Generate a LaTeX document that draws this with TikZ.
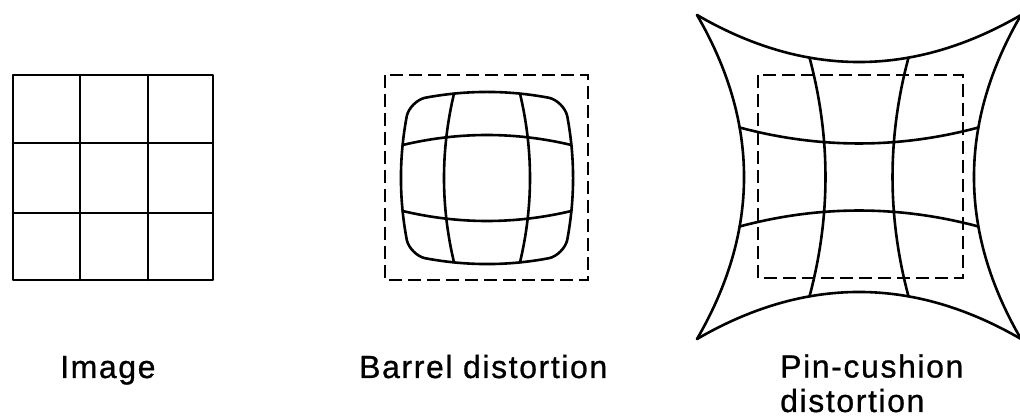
\documentclass[tikz,border=0pt]{standalone}
\usepackage{fontspec}
\setmainfont{Liberation Sans}[LetterSpace=5,FakeBold=0.8]
\begin{document}
\begin{tikzpicture}[x=1pt,y=-1pt,
  solidline/.style={line width=2.6pt,line join=round,line cap=round},
  dashline/.style={line width=2.3pt,dash pattern=on 13pt off 6pt},
  caption/.style={inner sep=0pt,anchor=base west,align=left,
    font=\fontsize{32}{34.5}\selectfont}]
\useasboundingbox (0,0) rectangle (1020,419);

% ---------- Image: regular grid ----------
\draw[solidline] (13,75) rectangle (213,280);
\draw[solidline] (80,75) -- (80,280) (148,75) -- (148,280);
\draw[solidline] (13,143) -- (213,143) (13,213) -- (213,213);

% ---------- Barrel distortion ----------
\draw[dashline] (385,75) rectangle (588,280);
\begin{scope}[shift={(487,178)}]
\draw[solidline] (-62,-80.2)
  .. controls (-20.67,-88) and (20.67,-88) .. (62,-80.2)
  .. controls (70,-78.5) and (78.5,-70) .. (80.2,-62)
  .. controls (88,-20.67) and (88,20.67) .. (80.2,62)
  .. controls (78.5,70) and (70,78.5) .. (62,80.2)
  .. controls (20.67,88) and (-20.67,88) .. (-62,80.2)
  .. controls (-70,78.5) and (-78.5,70) .. (-80.2,62)
  .. controls (-88,20.67) and (-88,-20.67) .. (-80.2,-62)
  .. controls (-78.5,-70) and (-70,-78.5) .. cycle;
\draw[solidline] (-33,-84.35) .. controls (-46.33,-28.12) and (-46.33,28.12) .. (-33,84.35);
\draw[solidline] (33,-84.35) .. controls (46.33,-28.12) and (46.33,28.12) .. (33,84.35);
\draw[solidline] (-84.35,-33) .. controls (-28.12,-46.33) and (28.12,-46.33) .. (84.35,-33);
\draw[solidline] (-84.35,33) .. controls (-28.12,46.33) and (28.12,46.33) .. (84.35,33);
\end{scope}

% ---------- Pin-cushion distortion ----------
\draw[dashline] (758,75) rectangle (963,278);
\begin{scope}[shift={(859,177)}]
\draw[solidline] (-162,-162) .. controls (-54,-99.3) and (54,-99.3) .. (162,-162);
\draw[solidline] (162,-162) .. controls (99.3,-54) and (99.3,54) .. (162,162);
\draw[solidline] (162,162) .. controls (54,99.3) and (-54,99.3) .. (-162,162);
\draw[solidline] (-162,162) .. controls (-99.3,54) and (-99.3,-54) .. (-162,-162);
\draw[solidline] (-49.5,-119.4) .. controls (-28.2,-39.8) and (-28.2,39.8) .. (-49.5,119.4);
\draw[solidline] (49.5,-119.4) .. controls (28.2,-39.8) and (28.2,39.8) .. (49.5,119.4);
\draw[solidline] (-119.4,-49.5) .. controls (-39.8,-28.2) and (39.8,-28.2) .. (119.4,-49.5);
\draw[solidline] (-119.4,49.5) .. controls (-39.8,28.2) and (39.8,28.2) .. (119.4,49.5);
\end{scope}

% ---------- captions ----------
\node[caption] (capimage) at (60,378) {Image};
\node[caption] (capbarrel) at (359,378) {Barrel distortion};
\node[caption] (cappin) at (780,412) {Pin-cushion\\distortion};
\end{tikzpicture}
\end{document}
